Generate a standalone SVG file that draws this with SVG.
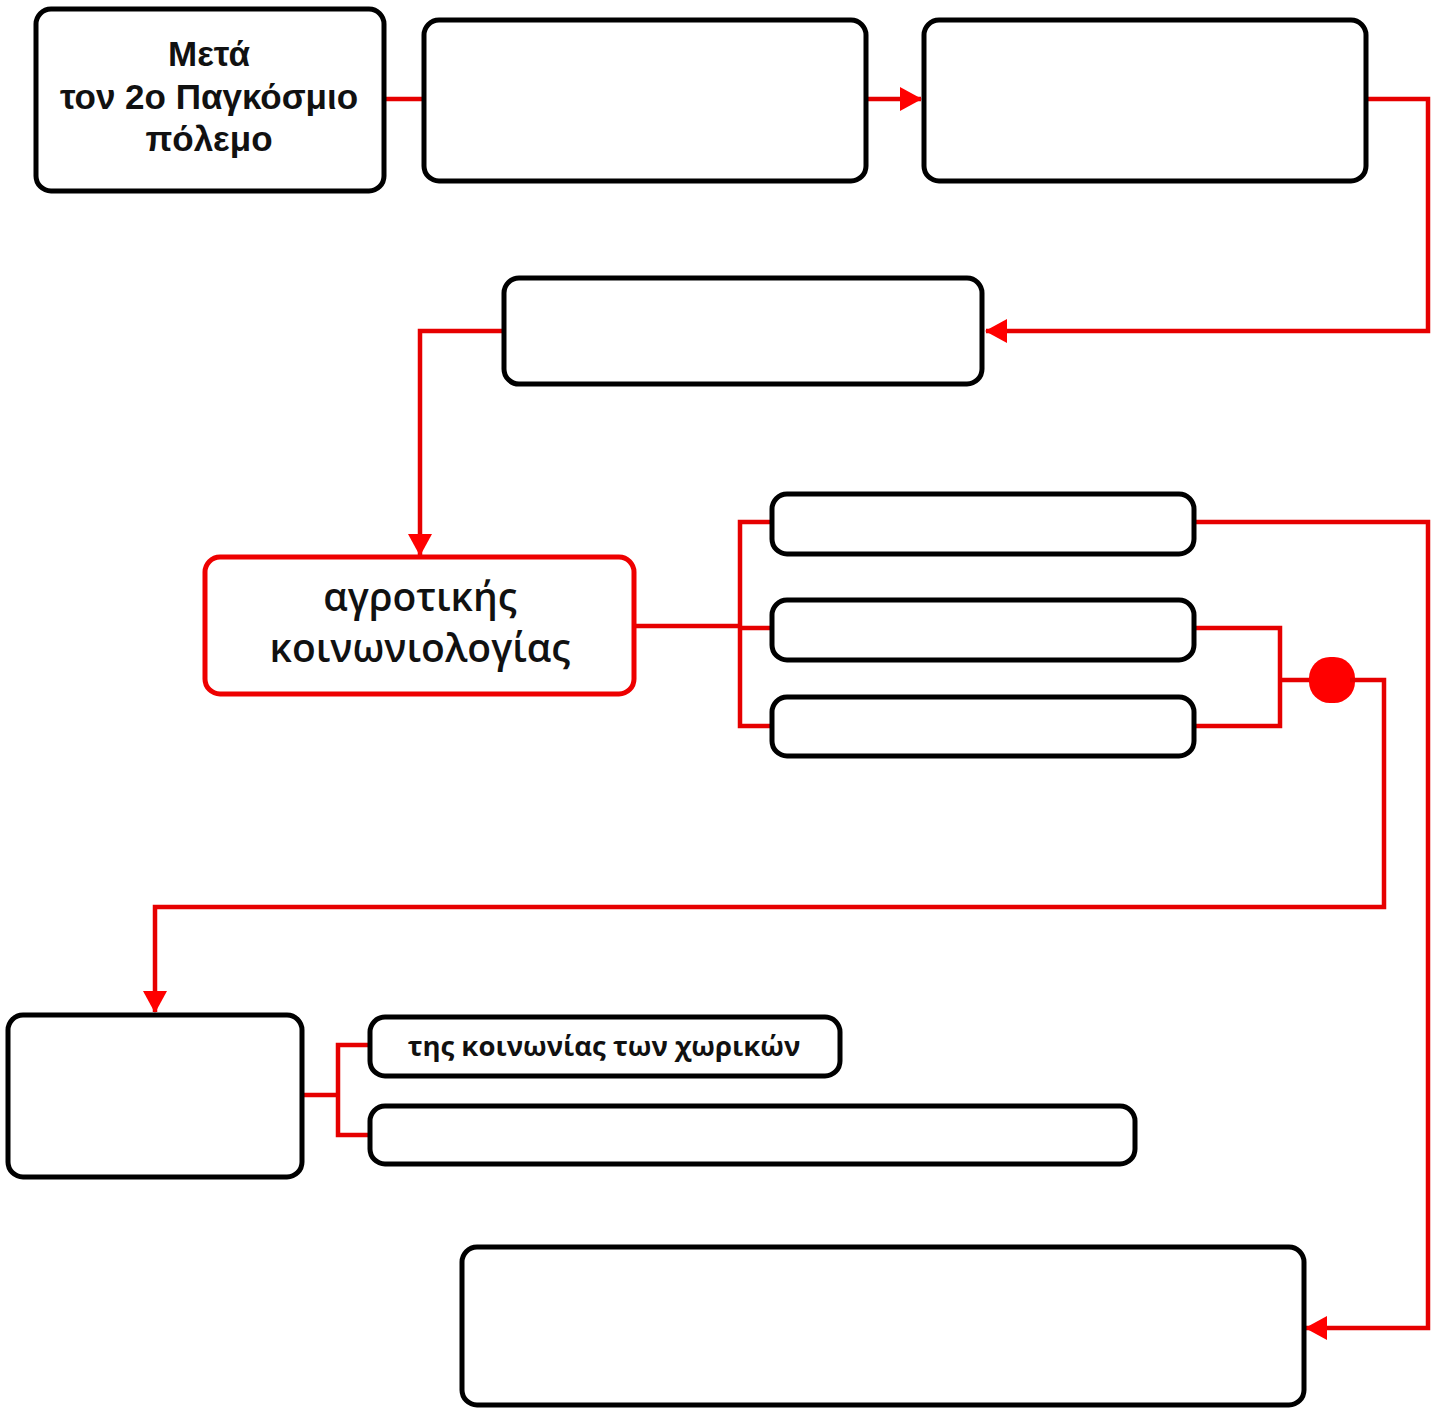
<svg xmlns="http://www.w3.org/2000/svg" width="1443" height="1409" viewBox="0 0 1443 1409">
<style>
.box{fill:#fff;stroke:#000;stroke-width:5}
.rbox{fill:#fff;stroke:#e00;stroke-width:5}
.ln{fill:none;stroke:#e60000;stroke-width:4.5}
.t1{font-family:"Liberation Sans",Arial,sans-serif;font-weight:bold;font-size:35px;text-anchor:middle;fill:#111}
.t2{font-family:"Open Sans","Noto Sans",sans-serif;font-weight:600;font-size:39px;text-anchor:middle;fill:#111}
.t3{font-family:"Open Sans","Noto Sans",sans-serif;font-weight:700;font-size:27.5px;text-anchor:middle;fill:#111}
</style>
<defs>
<marker id="ah" markerWidth="22" markerHeight="24" refX="21" refY="12" orient="auto" markerUnits="userSpaceOnUse">
<path d="M0,0 L22,12 L0,24 Z" fill="#f00"/>
</marker>
</defs>
<rect width="1443" height="1409" fill="#fff"/>
<g id="connectors">
<path class="ln" d="M384,99 H424"/>
<path class="ln" d="M866,99 H921" marker-end="url(#ah)"/>
<path class="ln" d="M1366,99 H1428 V331 H986" marker-end="url(#ah)"/>
<path class="ln" d="M504,331 H420 V555" marker-end="url(#ah)"/>
<path class="ln" d="M634,626 H740"/>
<path class="ln" d="M772,522 H740 V726 H772 M740,628 H772"/>
<path class="ln" d="M1194,522 H1428 V1328 H1306" marker-end="url(#ah)"/>
<path class="ln" d="M1194,628 H1280 V726 H1194 M1280,680 H1320"/>
<rect x="1309" y="657" width="46" height="46" rx="21" fill="#f00"/>
<path class="ln" d="M1350,680 H1384 V907 H155 V1012" marker-end="url(#ah)"/>
<path class="ln" d="M302,1095 H338 M370,1045 H338 V1135 H370"/>
</g>
<g id="n1"><rect class="box" x="36" y="9" width="348" height="182" rx="15"/>
<text class="t1" x="209" y="66">Μετά</text>
<text class="t1" x="209" y="109">τον 2ο Παγκόσμιο</text>
<text class="t1" x="209" y="151">πόλεμο</text></g>
<g id="n2"><rect class="box" x="424" y="20" width="442" height="161" rx="15"/></g>
<g id="n3"><rect class="box" x="924" y="20" width="442" height="161" rx="15"/></g>
<g id="n4"><rect class="box" x="504" y="278" width="478" height="106" rx="15"/></g>
<g id="n5"><rect class="rbox" x="205" y="557" width="429" height="137" rx="15"/>
<text class="t2" x="420" y="611">αγροτικής</text>
<text class="t2" x="420" y="662">κοινωνιολογίας</text></g>
<g id="n6a"><rect class="box" x="772" y="494" width="422" height="60" rx="15"/></g>
<g id="n6b"><rect class="box" x="772" y="600" width="422" height="60" rx="15"/></g>
<g id="n6c"><rect class="box" x="772" y="697" width="422" height="59" rx="15"/></g>
<g id="n7"><rect class="box" x="8" y="1015" width="294" height="162" rx="15"/></g>
<g id="n8a"><rect class="box" x="370" y="1017" width="470" height="59" rx="15"/>
<text class="t3" x="604" y="1056">της κοινωνίας των χωρικών</text></g>
<g id="n8b"><rect class="box" x="370" y="1106" width="765" height="58" rx="15"/></g>
<g id="n9"><rect class="box" x="462" y="1247" width="842" height="158" rx="15"/></g>
</svg>
